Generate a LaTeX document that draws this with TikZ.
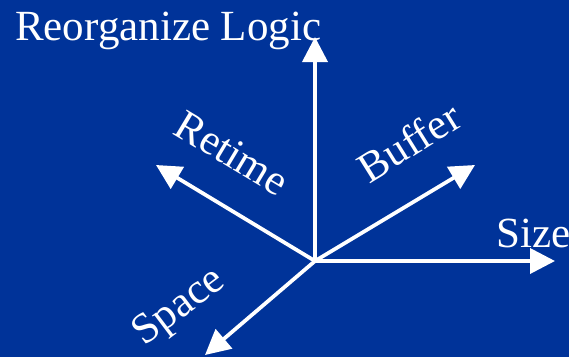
\documentclass[tikz,border=0pt]{standalone}
\usepackage{fontspec}
\setmainfont{Liberation Serif}
\usepackage{xcolor}
\definecolor{Deep}{HTML}{003399}
\usetikzlibrary{arrows.meta}

\begin{document}
\begin{tikzpicture}[
  x=1pt,y=-1pt,
  font=\fontsize{43}{50}\selectfont,
  axis/.style={-{Triangle[length=25pt,width=25pt]},line width=3.75pt,draw=white},
  tag/.style={text=white,inner sep=0pt}
]
\fill[Deep] (0,0) rectangle (569,357);
\useasboundingbox (0,0) rectangle (569,357);
\coordinate (origin) at (315,261);
\coordinate (logic) at (315,37);
\coordinate (size) at (555,261);
\coordinate (buffer) at (475,165);
\coordinate (retime) at (156,165);
\coordinate (space) at (205,355);
\node[tag,anchor=base west] (logictext) at (15,40) {Reorganize Logic};
\node[tag,anchor=base west] (sizetext) at (496,247) {Size};
\node[tag,rotate=32] (buffertext) at (409,142) {Buffer};
\node[tag,rotate=-31] (retimetext) at (232,153) {Retime};
\node[tag,rotate=37] (spacetext) at (180,308) {Space};
\draw[axis] (origin)--(logic);
\draw[axis] (origin)--(size);
\draw[axis] (origin)--(buffer);
\draw[axis] (origin)--(retime);
\draw[axis] (origin)--(space);
\end{tikzpicture}
\end{document}
